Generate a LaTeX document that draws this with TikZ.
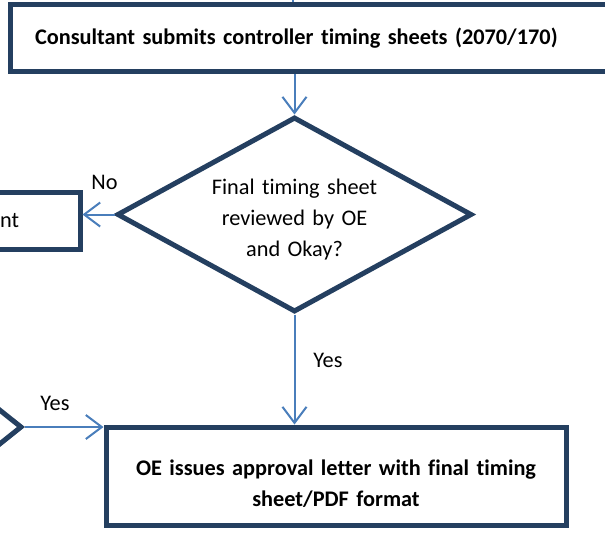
\documentclass[tikz,border=0pt]{standalone}
\usepackage{fontspec}
\setmainfont{Carlito}[Ligatures=NoCommon]
\usetikzlibrary{shapes.geometric,arrows.meta,positioning}

\definecolor{boxline}{RGB}{36,63,96}
\definecolor{flowarrow}{RGB}{74,126,187}

\tikzset{
  procbox/.style={draw=boxline, line width=5pt, fill=white, rectangle,
    font=\fontsize{22.3}{31}\selectfont\bfseries, align=center},
  decision/.style={draw=boxline, line width=5pt, fill=white, diamond, aspect=1.8,
    inner sep=0pt, font=\fontsize{22.3}{31}\selectfont, align=center},
  flow/.style={draw=flowarrow, line width=2pt, -{Straight Barb[length=16pt,width=24pt]}},
  answer/.style={font=\fontsize{22.3}{26}\selectfont}
}

\begin{document}
\begin{tikzpicture}[x=1pt,y=-1pt]
  \useasboundingbox (0,0) rectangle (605,542);
  \clip (0,0) rectangle (605,542);

  % boxes and decisions
  \node [procbox, minimum width=630, minimum height=67, text width=580, align=left,
    inner xsep=25] (submit) at (325,38) {Consultant submits controller timing sheets (2070/170)};
  \node [decision, minimum width=355, minimum height=195, text width=180] (review) at (294.5,214.5)
    {\rule{0pt}{26pt}Final timing sheet\\reviewed by OE\\and Okay?};
  \node [procbox, font=\fontsize{22.3}{31}\selectfont, minimum width=230, minimum height=57,
    text width=108, align=right, inner xsep=61] (back) at (-35,220.5) {nt};
  \node [decision, minimum width=300, minimum height=240] (prev) at (-128,427) {};
  \node [procbox, minimum width=460, minimum height=98, text width=440] (approve) at (336,476)
    {\rule{0pt}{31pt}OE issues approval letter with final timing\\sheet/PDF format};

  \coordinate (above) at (293,-40);

  % connectors
  \draw [flow, arrows=-] (above) -- (submit.north -| above);
  \draw [flow] (submit.south -| review.north) -- (review.north);
  \draw [flow] (review.west) -- (back.east |- review.west);
  \draw [flow] (review.south) -- (review.south |- approve.north);
  \draw [flow] (prev.east) -- (prev.east -| approve.west);

  % answers
  \node [answer] (no) at (104.5,182) {No};
  \node [answer] (yes1) at (328,360) {Yes};
  \node [answer] (yes2) at (55,403) {Yes};
\end{tikzpicture}
\end{document}
